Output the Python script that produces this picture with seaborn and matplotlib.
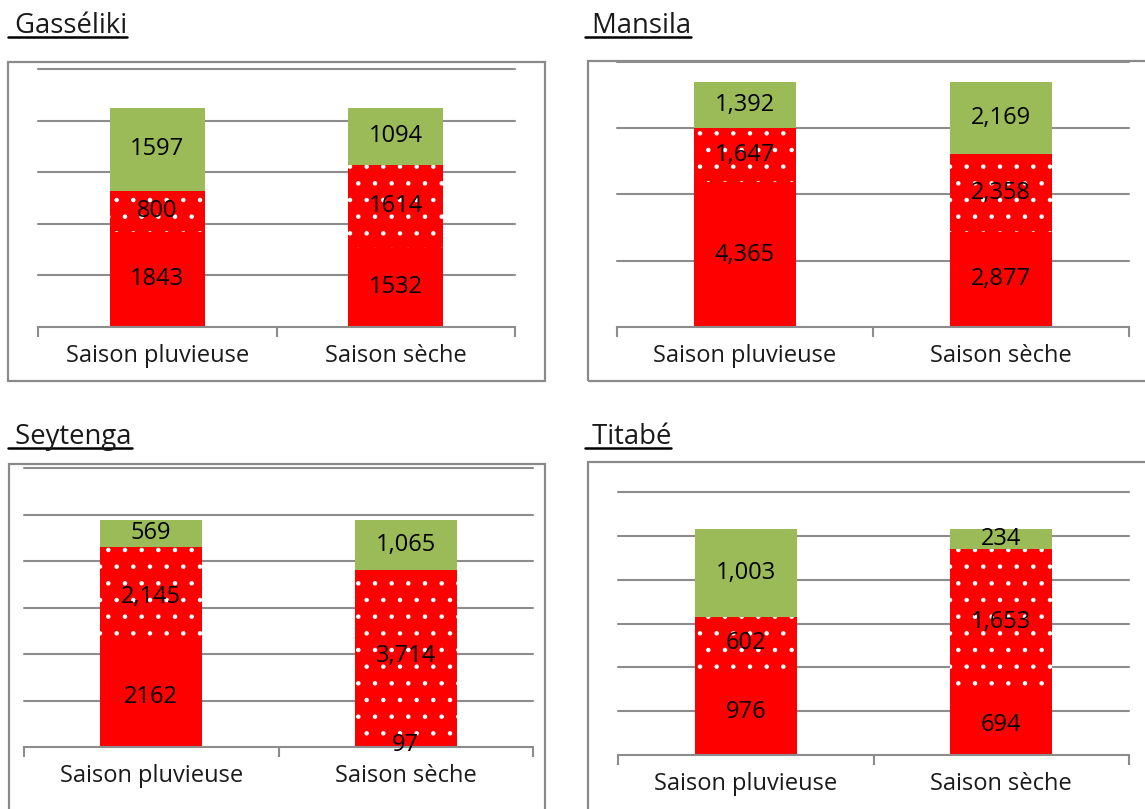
import numpy as np
import pandas as pd
import matplotlib
matplotlib.use("Agg")
import matplotlib.pyplot as plt
import seaborn as sns
from matplotlib.lines import Line2D
from matplotlib.patches import Rectangle

# ---------------- data ----------------
categories = ["Saison pluvieuse", "Saison sèche"]

gasseliki_solid = [1843, 1532]
gasseliki_dotted = [800, 1614]
gasseliki_green = [1597, 1094]
gasseliki_text = [["1843", "1532"], ["800", "1614"], ["1597", "1094"]]

mansila_solid = [4365, 2877]
mansila_dotted = [1647, 2358]
mansila_green = [1392, 2169]
mansila_text = [["4,365", "2,877"], ["1,647", "2,358"], ["1,392", "2,169"]]

seytenga_solid = [2162, 97]
seytenga_dotted = [2145, 3714]
seytenga_green = [569, 1065]
seytenga_text = [["2162", "97"], ["2,145", "3,714"], ["569", "1,065"]]

titabe_solid = [976, 694]
titabe_dotted = [602, 1653]
titabe_green = [1003, 234]
titabe_text = [["976", "694"], ["602", "1,653"], ["1,003", "234"]]

titles = [" Gasséliki", " Mansila", " Seytenga", " Titabé"]
y_max = [5000, 8000, 6000, 3000]
y_step = [1000, 2000, 1000, 500]

# ---------------- style ----------------
sns.set_theme(style="white")
plt.rcParams["font.family"] = ["Open Sans", "DejaVu Sans"]
plt.rcParams["hatch.linewidth"] = 0.8

RED = "#FF0000"
GREEN = "#9BBB59"
GRID = "#8C8C8C"
TXT = "#1A1A1A"
W, H = 1145, 809
FS = 17
FS_TITLE = 19.8

fig = plt.figure(figsize=(W / 100, H / 100), dpi=100)
fig.patch.set_facecolor("white")


def fig_rect(x0, y0, x1, y1):
    return [x0 / W, 1 - y1 / H, (x1 - x0) / W, (y1 - y0) / H]


panels = [
    dict(title=titles[0], solid=gasseliki_solid, dotted=gasseliki_dotted, green=gasseliki_green,
         text=gasseliki_text, ymax=y_max[0], step=y_step[0],
         box=(8, 62, 545, 381), plot=(38, 69, 515, 327), tpos=(8, 33)),
    dict(title=titles[1], solid=mansila_solid, dotted=mansila_dotted, green=mansila_green,
         text=mansila_text, ymax=y_max[1], step=y_step[1],
         box=(588, 61, 1160, 381), plot=(617, 62, 1129, 327), tpos=(585, 33)),
    dict(title=titles[2], solid=seytenga_solid, dotted=seytenga_dotted, green=seytenga_green,
         text=seytenga_text, ymax=y_max[2], step=y_step[2],
         box=(9, 464, 545, 820), plot=(24, 468, 533, 747), tpos=(8, 444)),
    dict(title=titles[3], solid=titabe_solid, dotted=titabe_dotted, green=titabe_green,
         text=titabe_text, ymax=y_max[3], step=y_step[3],
         box=(588, 462, 1160, 820), plot=(618, 492, 1129, 755), tpos=(585, 444)),
]

title_artists = []
for p in panels:
    # outer frame
    bx0, by0, bx1, by1 = p["box"]
    fig.add_artist(Rectangle((bx0 / W, 1 - by1 / H), (bx1 - bx0) / W, (by1 - by0) / H,
                             transform=fig.transFigure, fill=False,
                             edgecolor="#8A8A8A", linewidth=1.6, zorder=0))
    ax = fig.add_axes(fig_rect(*p["plot"]))
    ax.set_facecolor("none")

    solid = np.array(p["solid"])
    dotted = np.array(p["dotted"])
    green = np.array(p["green"])
    cum1 = solid
    cum2 = solid + dotted
    cum3 = solid + dotted + green

    df = pd.DataFrame({"cat": categories, "c1": cum1, "c2": cum2, "c3": cum3})
    sns.barplot(data=df, x="cat", y="c3", color=GREEN, saturation=1, width=0.4,
                linewidth=0, edgecolor=GREEN, ax=ax, zorder=2)
    sns.barplot(data=df, x="cat", y="c2", color=RED, saturation=1, width=0.4,
                linewidth=0, edgecolor="white", hatch=".", ax=ax, zorder=3)
    sns.barplot(data=df, x="cat", y="c1", color=RED, saturation=1, width=0.4,
                linewidth=0, edgecolor=RED, ax=ax, zorder=4)

    # value labels
    bottoms = [np.zeros(2), cum1, cum2]
    layers = [solid, dotted, green]
    for li in range(3):
        for i in range(2):
            ax.text(i, bottoms[li][i] + layers[li][i] / 2, p["text"][li][i],
                    ha="center", va="center", fontsize=FS, color="black", zorder=6)

    ax.set_xlim(-0.5, 1.5)
    ax.set_ylim(0, p["ymax"])
    ax.set_yticks(np.arange(p["step"], p["ymax"] + 1, p["step"]))
    ax.yaxis.grid(True, color=GRID, linewidth=1.5)
    for gl in ax.get_ygridlines():
        gl.set_clip_on(False)
    ax.set_axisbelow(True)
    ax.tick_params(axis="y", length=0, labelleft=False)
    ax.set_xlabel("")
    ax.set_ylabel("")
    for s in ["left", "right", "top"]:
        ax.spines[s].set_visible(False)
    ax.spines["bottom"].set_color(GRID)
    ax.spines["bottom"].set_linewidth(1.5)
    ax.spines["bottom"].set_zorder(5)
    ax.set_xticks([0, 1])
    ax.set_xticklabels(categories, fontsize=FS, color=TXT)
    ax.tick_params(axis="x", which="major", length=0, pad=12)
    ax.set_xticks([-0.5, 0.5, 1.5], minor=True)
    ax.tick_params(axis="x", which="minor", bottom=True, length=7, width=1.5,
                   color=GRID, direction="out")

    tx, ty = p["tpos"]
    t = fig.text(tx / W, 1 - ty / H, p["title"], fontsize=FS_TITLE, color=TXT,
                 ha="left", va="baseline")
    title_artists.append((t, ty))

fig.canvas.draw()
r = fig.canvas.get_renderer()
for t, ty in title_artists:
    bb = t.get_window_extent(r)
    yy = 1 - (ty + 4) / H
    fig.add_artist(Line2D([bb.x0 / W, bb.x1 / W], [yy, yy], transform=fig.transFigure,
                          color="black", linewidth=1.8))

fig.savefig("out.png", dpi=100, facecolor="white")
